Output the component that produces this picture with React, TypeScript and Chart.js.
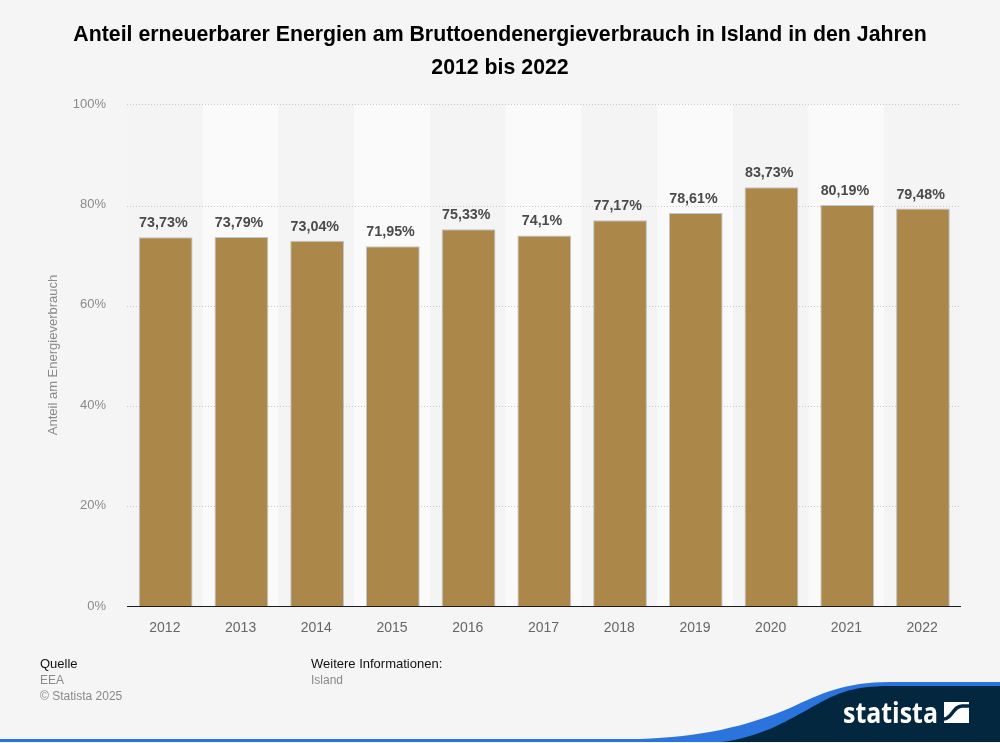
import React, { useEffect, useRef } from "react";
import { Chart, registerables } from "chart.js";

Chart.register(...registerables);

const years = ["2012", "2013", "2014", "2015", "2016", "2017", "2018", "2019", "2020", "2021", "2022"];
const shares = [73.73, 73.79, 73.04, 71.95, 75.33, 74.1, 77.17, 78.61, 83.73, 80.19, 79.48];
const titleLines = ["Anteil erneuerbarer Energien am Bruttoendenergieverbrauch in Island in den Jahren", "2012 bis 2022"];
const yAxisTitle = "Anteil am Energieverbrauch";

const FONT = '"Liberation Sans", Arial, sans-serif';

const bandsPlugin = {
  id: "bands",
  beforeDatasetsDraw(chart: any) {
    const { ctx, chartArea, scales } = chart;
    const step = (chartArea.right - chartArea.left) / years.length;
    ctx.save();
    years.forEach((_, i) => {
      const x = scales.x.getPixelForValue(i) - step / 2;
      ctx.fillStyle = i % 2 === 1 ? "#fafafa" : "#f4f4f4";
      ctx.fillRect(x, chartArea.top, step, chartArea.bottom - chartArea.top);
    });
    ctx.strokeStyle = "#c8c8c8";
    ctx.lineWidth = 1;
    ctx.setLineDash([1, 2]);
    scales.y.ticks.forEach((t: any) => {
      if (t.value === 0) return;
      const raw = t.value >= 100 ? chartArea.top : scales.yb.getPixelForValue(t.value);
      const y = Math.round(raw) + 0.5;
      ctx.beginPath();
      ctx.moveTo(chartArea.left, y);
      ctx.lineTo(chartArea.right, y);
      ctx.stroke();
    });
    ctx.restore();
  },
};

const barNudge = {
  id: "barNudge",
  beforeDatasetDraw(chart: any) {
    chart.ctx.save();
    chart.ctx.translate(0.8, 0);
  },
  afterDatasetDraw(chart: any) {
    chart.ctx.restore();
  },
};

const valueLabels = {
  id: "valueLabels",
  afterDatasetsDraw(chart: any) {
    const { ctx } = chart;
    const meta = chart.getDatasetMeta(0);
    ctx.save();
    ctx.font = `bold 14.3px ${FONT}`;
    ctx.fillStyle = "#4a4a4a";
    ctx.textAlign = "center";
    ctx.textBaseline = "middle";
    meta.data.forEach((bar: any, i: number) => {
      ctx.fillText(String(shares[i]).replace(".", ",") + "%", bar.x - 1.5, bar.y - 14);
    });
    ctx.restore();
  },
};

export default function App() {
  const ref = useRef<HTMLCanvasElement>(null);
  useEffect(() => {
    const chart = new Chart(ref.current!, {
      type: "bar",
      data: {
        labels: years,
        datasets: [
          {
            data: shares,
            yAxisID: "yb",
            backgroundColor: "#ab884a",
            borderColor: "rgba(130,150,170,0.5)",
            borderWidth: { top: 1, left: 1, right: 1, bottom: 0 },
            categoryPercentage: 0.71,
            barPercentage: 1,
          },
        ],
      },
      options: {
        responsive: false,
        animation: false,
        layout: { padding: { top: 104, left: 0, right: 40, bottom: 0 } },
        plugins: { legend: { display: false }, tooltip: { enabled: false }, title: { display: false } },
        scales: {
          x: {
            afterFit: (s: any) => { s.height = 137; },
            grid: { display: false, drawTicks: false },
            border: { display: true, color: "#1a1a1a", width: 1 },
            ticks: { color: "#666666", padding: 14, font: { family: FONT, size: 14 } },
          },
          y: {
            min: 0,
            max: 100,
            afterFit: (s: any) => { s.width = 127; },
            grid: { display: false, drawTicks: false },
            border: { display: false },
            ticks: {
              stepSize: 20,
              padding: 21,
              color: "#8a8a8a",
              font: { family: FONT, size: 13 },
              callback: (v: any) => `${v}%`,
            },
            title: {
              display: true,
              text: yAxisTitle,
              color: "#8a8a8a",
              font: { family: FONT, size: 13, weight: "normal" },
              padding: { top: 46, bottom: 0 },
            },
          },
          yb: {
            display: false,
            min: 0,
            max: 100.4,
          },
        },
      },
      plugins: [bandsPlugin, barNudge, valueLabels],
    } as any);
    return () => chart.destroy();
  }, []);

  const line = (top: number, left: number, color: string, text: string, size: number) => (
    <div style={{ position: "absolute", top, left, color, fontSize: size, lineHeight: "16px", whiteSpace: "nowrap" }}>{text}</div>
  );

  return (
    <div style={{ position: "fixed", left: 0, top: 0, width: 1000, height: 743, background: "#f5f5f5", overflow: "hidden", fontFamily: FONT }}>
      <canvas ref={ref} width={1000} height={743} style={{ position: "absolute", left: 0, top: 0, width: 1000, height: 743 }} />
      <div style={{ position: "absolute", left: 0, top: 18, width: 1000, textAlign: "center", fontWeight: "bold", fontSize: 21.3, lineHeight: "33px", color: "#000" }}>
        {titleLines.map((t) => <div key={t}>{t}</div>)}
      </div>
      {line(656, 40, "#111111", "Quelle", 13)}
      {line(672, 40, "#8a8a8a", "EEA", 12)}
      {line(688, 40, "#8a8a8a", "© Statista 2025", 12)}
      {line(656, 311, "#111111", "Weitere Informationen:", 13)}
      {line(672, 311, "#8a8a8a", "Island", 12)}
      <svg width={1000} height={743} style={{ position: "absolute", left: 0, top: 0 }}>
        <path d="M0 739 L640 739 C700 737 745 727 790 708 C820 694 845 682 890 682 L1000 682 L1000 742 L0 742 Z" fill="#2b73dd" />
        <path d="M722 742 C760 737 785 722 807 710 C835 694 850 686 890 686 L1000 686 L1000 742 Z" fill="#03273f" />
        <text x={843} y={723} fill="#ffffff" fontFamily='"Open Sans", sans-serif' fontWeight={700} fontSize={29} textLength={95} lengthAdjust="spacingAndGlyphs">statista</text>
        <rect x={944} y={702} width={25} height={21} fill="#ffffff" />
        <path d="M944 719 C952 719 953 706 962 706 L969 706" fill="none" stroke="#03273f" strokeWidth={3.5} />
      </svg>
    </div>
  );
}
